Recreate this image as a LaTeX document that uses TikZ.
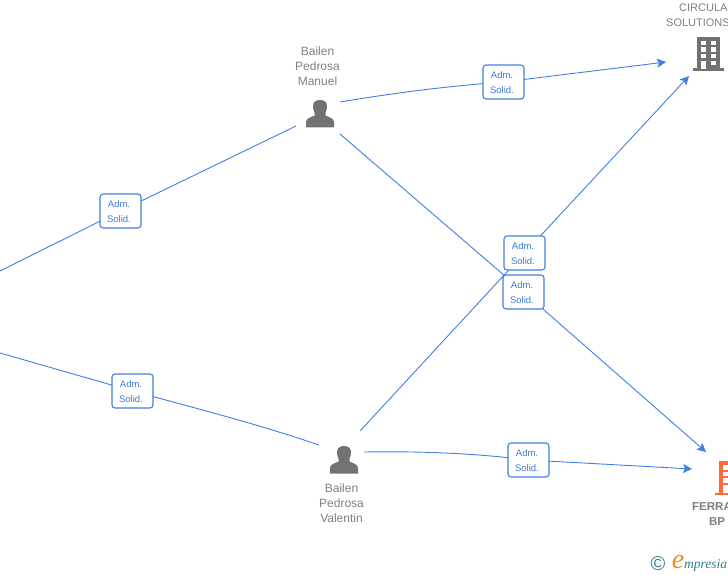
\documentclass[tikz,border=0pt]{standalone}
\usepackage{fontspec}
\setmainfont{Liberation Sans}
\newfontfamily\logofont{Liberation Serif}
\usetikzlibrary{arrows.meta}
\definecolor{linkblue}{HTML}{3F7FE0}
\definecolor{boxtext}{HTML}{3E7CD6}
\definecolor{icongray}{HTML}{727272}
\definecolor{labelgray}{HTML}{808080}
\definecolor{orangeicon}{HTML}{FF6A3C}
\definecolor{logoteal}{HTML}{2F7F90}
\definecolor{logoorange}{HTML}{F08A1D}
\tikzset{
  link/.style={draw=linkblue,line width=0.9pt},
  linkarrow/.style={link,-{Stealth[length=9pt,width=9pt,inset=2pt]}},
  tagbox/.style={draw=linkblue,line width=1.1pt,fill=white,rounded corners=3pt,minimum width=41pt,minimum height=34pt,inner sep=0pt,align=center,text=boxtext,font=\fontsize{9.5}{15}\selectfont},
  tagtext/.style={inner sep=0pt,align=center,text=boxtext,font=\fontsize{9.5}{15}\selectfont},
  caption/.style={text=labelgray,font=\fontsize{12}{15}\selectfont,align=center,inner sep=0pt},
  smallcaption/.style={text=labelgray,font=\fontsize{11}{15}\selectfont,align=center,inner sep=0pt},
}
\newcommand{\personicon}[3]{%
  \begin{scope}[shift={(#1,#2)}]
    \fill[#3] (-14,13.5) -- (-14,8) .. controls (-14,4) and (-9,3.5) .. (-5.5,1.5)
      -- (-5.5,-1) .. controls (-6.5,-3) and (-7,-6) .. (-7,-8)
      .. controls (-7,-12) and (-4,-14) .. (0,-14)
      .. controls (4,-14) and (7,-12) .. (7,-8)
      .. controls (7,-6) and (6.5,-3) .. (5.5,-1)
      -- (5.5,1.5) .. controls (9,3.5) and (14,4) .. (14,8) -- (14,13.5) -- cycle;
  \end{scope}}
\newcommand{\buildingicon}[3]{%
  \begin{scope}[shift={(#1,#2)}]
    \fill[#3] (-12,-17) rectangle (11,15);
    \fill[#3] (-16,14.5) rectangle (15,17);
    \foreach \yy in {-13,-6.5,0}{
      \fill[white] (-8,\yy) rectangle (-3,\yy+4.5);
      \fill[white] (2,\yy) rectangle (7,\yy+4.5);
    }
    \fill[white] (-8,7) rectangle (-3,15);
    \fill[white] (2,7) rectangle (7,11.5);
  \end{scope}}
\begin{document}
\begin{tikzpicture}[x=1pt,y=-1pt]
\useasboundingbox (0,0) rectangle (728,575);
\clip (0,0) rectangle (728,575);
% free ends
\coordinate (inA) at (0,271);
\coordinate (inB) at (0,353);
\coordinate (manOutA) at (296,126);
\coordinate (manOutB) at (340,102);
\coordinate (manOutC) at (340,134);
\coordinate (valInA) at (319,445);
\coordinate (valOutB) at (360,431);
\coordinate (valOutC) at (364,452);
\coordinate (circA) at (666,62);
\coordinate (circB) at (689,76);
\coordinate (ferrA) at (706,452);
\coordinate (ferrB) at (692,469);
% label positions
\coordinate (t1) at (120.5,211);
\coordinate (t2) at (132.5,391);
\coordinate (t3) at (503.5,82);
\coordinate (t4) at (523.5,292);
\coordinate (t5) at (524.5,253);
\coordinate (t6) at (528.5,460);
% connectors
\draw[link] (inA) -- (t1) -- (manOutA);
\draw[link] (inB) -- (t2) .. controls (210,412) and (260,425) .. (valInA);
\draw[linkarrow] (manOutB) .. controls (400,92) and (450,86) .. (t3) -- (circA);
\draw[linkarrow] (manOutC) -- (t4) -- (ferrA);
\draw[linkarrow] (valOutB) -- (t5) -- (circB);
\draw[linkarrow] (valOutC) .. controls (430,451) and (480,454) .. (t6) -- (ferrB);
% tags
\node[tagbox] (tag1) at (t1) {};
\node[tagbox] (tag2) at (t2) {};
\node[tagbox] (tag3) at (t3) {};
\node[tagbox] (tag5) at (t5) {};
\node[tagbox] (tag4) at (t4) {};
\node[tagbox] (tag6) at (t6) {};
\node[tagtext] (txt1) at (119,212) {Adm.\\Solid.};
\node[tagtext] (txt2) at (131,392) {Adm.\\Solid.};
\node[tagtext] (txt3) at (502,83) {Adm.\\Solid.};
\node[tagtext] (txt4) at (522,293) {Adm.\\Solid.};
\node[tagtext] (txt5) at (523,254) {Adm.\\Solid.};
\node[tagtext] (txt6) at (527,461) {Adm.\\Solid.};
% icons
\personicon{320}{114}{icongray}
\personicon{344}{460}{icongray}
\buildingicon{709}{54}{icongray}
\buildingicon{731}{478}{orangeicon}
% captions
\node[caption] (manuel) at (317.5,66) {Bailen\\Pedrosa\\Manuel};
\node[caption] (valentin) at (341.5,503) {Bailen\\Pedrosa\\Valentin};
\node[smallcaption,anchor=west] (circ1) at (679,8) {CIRCULAR};
\node[smallcaption,anchor=west] (circ2) at (666,23) {SOLUTIONS};
\node[caption,anchor=west,font=\fontsize{11.5}{15}\selectfont\bfseries] (ferr1) at (692,507) {FERRA};
\node[caption,font=\fontsize{11.5}{15}\selectfont\bfseries] (ferr2) at (717,522) {BP};
% logo
\node[inner sep=0pt,text=logoteal,font=\fontsize{20}{20}\selectfont] (copy) at (658,564) {©};
\node[inner sep=0pt,text=logoorange,font=\logofont\itshape\fontsize{28}{28}\selectfont] (loge) at (678,562) {e};
\node[inner sep=0pt,anchor=west,text=logoteal,font=\logofont\itshape\fontsize{13.5}{14}\selectfont] (logt) at (684,565) {mpresia};
\end{tikzpicture}
\end{document}
